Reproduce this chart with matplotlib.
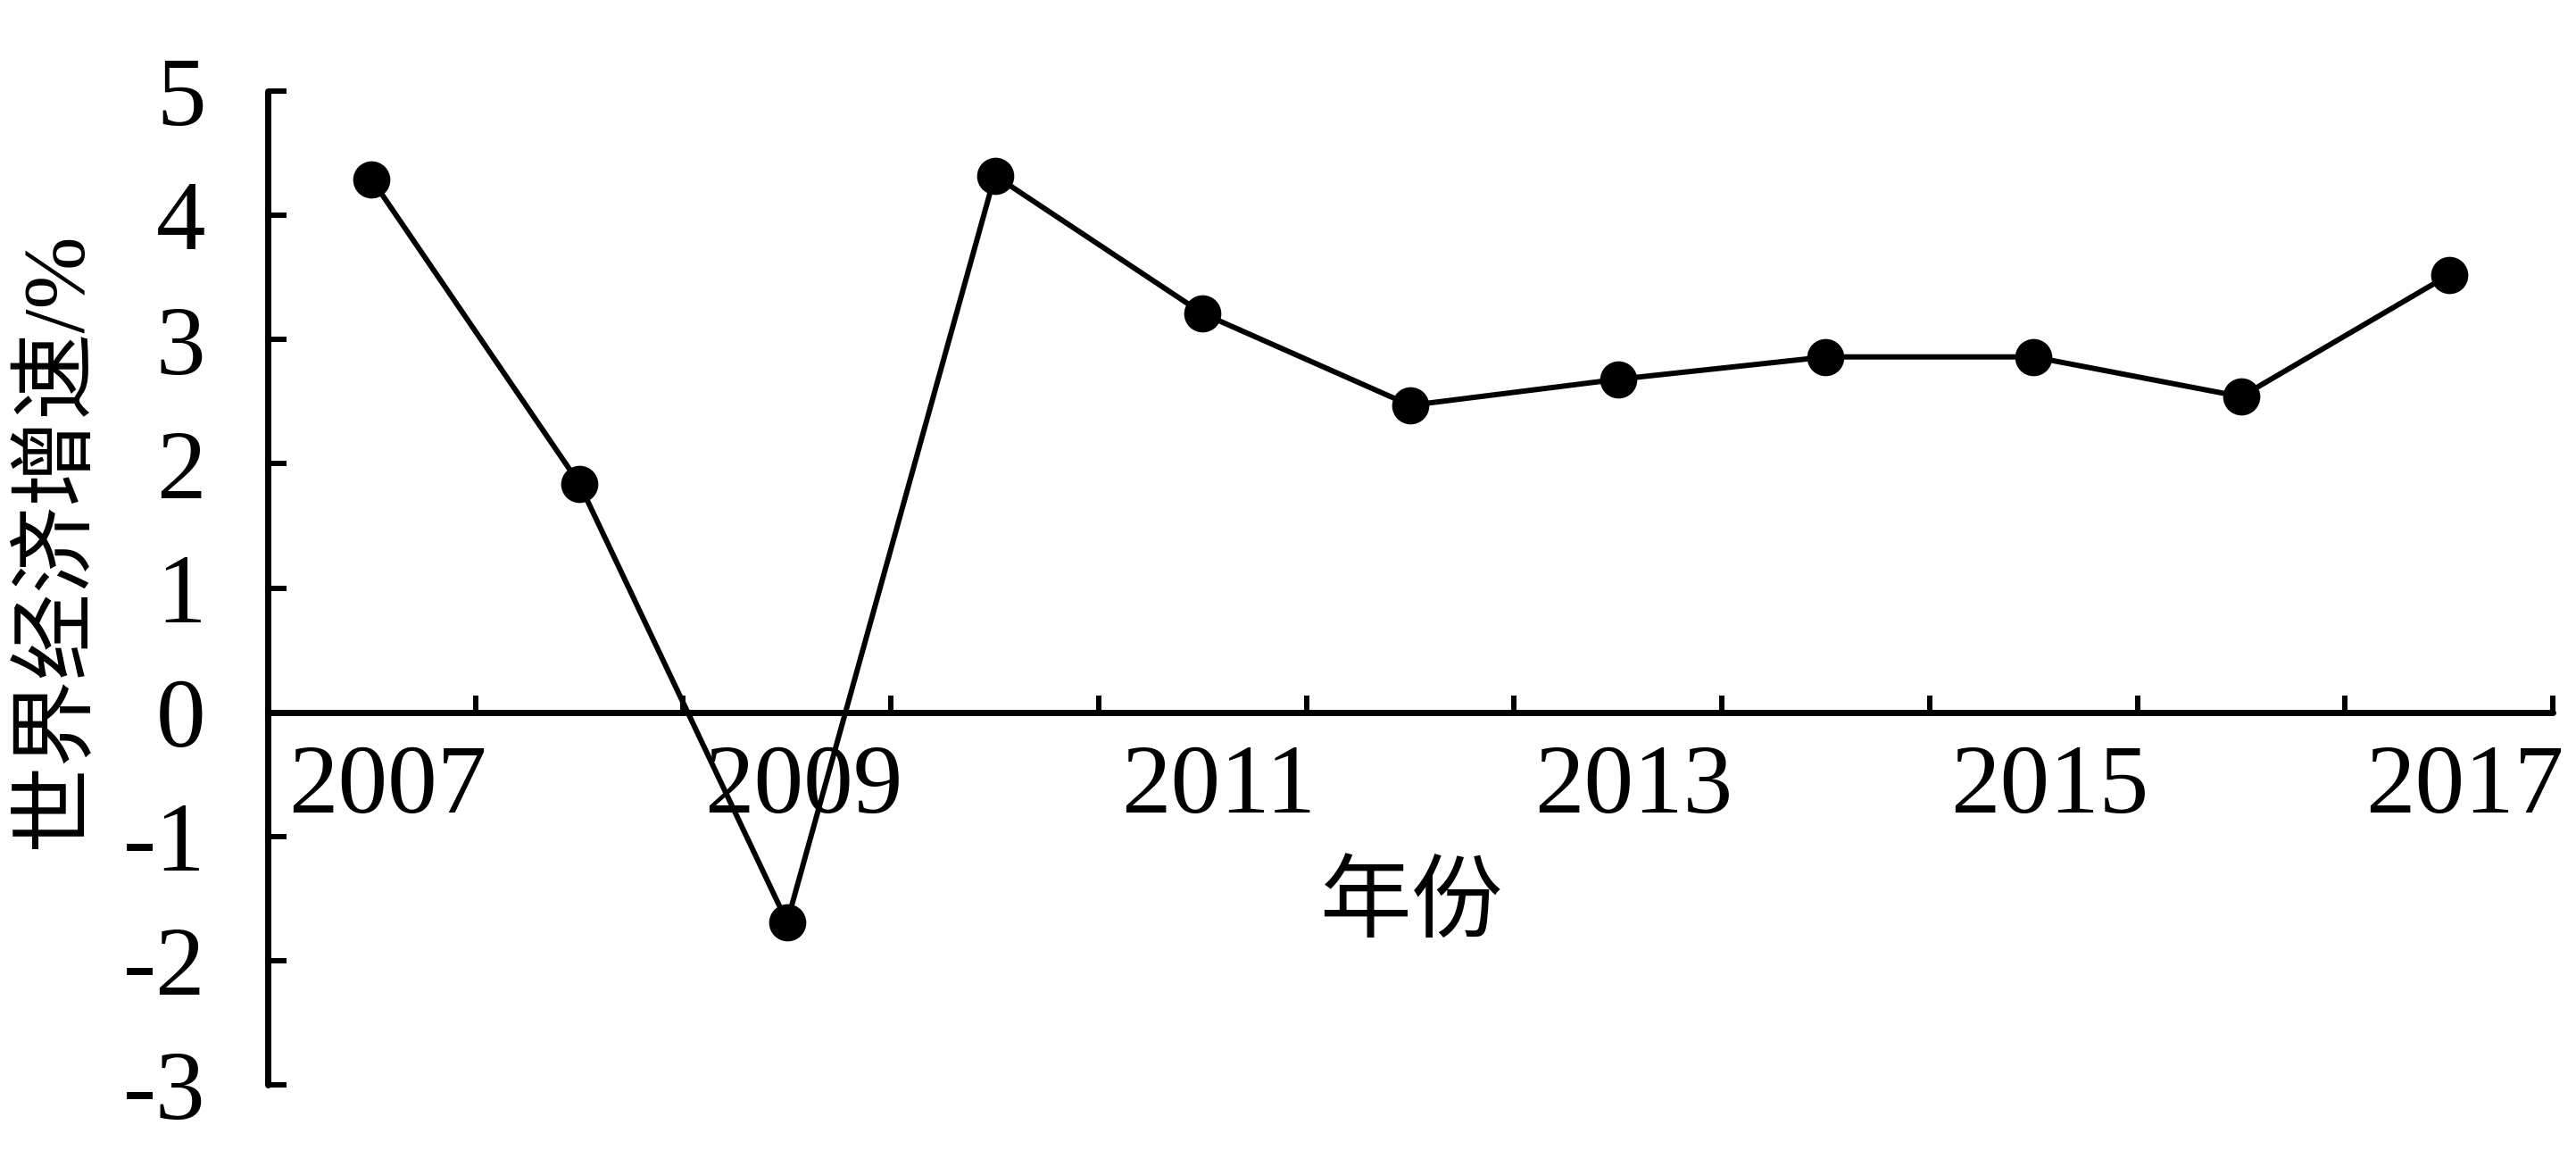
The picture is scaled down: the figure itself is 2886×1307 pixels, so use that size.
import numpy as np
import matplotlib
matplotlib.use("Agg")
import matplotlib.pyplot as plt
from matplotlib.transforms import ScaledTranslation

plt.rcParams['font.family'] = ['Liberation Serif', 'Noto Sans CJK SC', 'DejaVu Sans']

years = [2007, 2008, 2009, 2010, 2011, 2012, 2013, 2014, 2015, 2016, 2017]
growth = [4.29, 1.84, -1.69, 4.32, 3.21, 2.47, 2.68, 2.86, 2.86, 2.54, 3.52]
year_labels = ['2007', '', '2009', '', '2011', '', '2013', '', '2015', '', '2017']
y_ticks = [-3, -2, -1, 0, 1, 2, 3, 4, 5]
y_tick_labels = ['-3', '-2', '-1', '0', '1', '2', '3', '4', '5']
y_title = '世界经济增速/%'
x_title = '年份'

W, H = 2886, 1307
fig = plt.figure(figsize=(W / 100, H / 100), dpi=100)
ax = fig.add_axes([300 / W, 1 - 1215 / H, 2560 / W, (1215 - 102) / H])

x = np.arange(len(years))
ax.plot(x, growth, color='black', lw=4.3, marker='o', markersize=30,
        markerfacecolor='black', markeredgecolor='black', markeredgewidth=0,
        clip_on=False, zorder=3)

ax.set_xlim(-0.5, len(years) - 0.5)
ax.set_ylim(-3, 5)

for s in ['top', 'right']:
    ax.spines[s].set_visible(False)
ax.spines['bottom'].set_position(('data', 0))
for s in ['left', 'bottom']:
    ax.spines[s].set_linewidth(5)
    ax.spines[s].set_capstyle('round')

# y axis
ax.set_yticks(y_ticks)
ax.set_yticklabels(y_tick_labels)
ax.tick_params(axis='y', direction='in', length=15, width=4.3, pad=50,
               labelsize=80)

# x axis: boundary ticks (major), labels at category centres (minor)
ax.set_xticks(np.arange(0.5, len(years), 1.0))
ax.set_xticklabels([])
ax.tick_params(axis='x', which='major', direction='in', length=14, width=4.3)
ax.set_xticks(x, minor=True)
ax.set_xticklabels(year_labels, minor=True)
ax.tick_params(axis='x', which='minor', length=0, pad=26, labelsize=80)
off = ScaledTranslation(0.18, 0, fig.dpi_scale_trans)
for lab in ax.get_xticklabels(minor=True):
    lab.set_transform(lab.get_transform() + off)

fig.text(64 / W, 1 - 605 / H, y_title, rotation=90, ha='center', va='center',
         fontsize=70)
fig.text(1581 / W, 1 - 1016 / H, x_title, ha='center', va='center',
         fontsize=74)

fig.savefig('out.png', dpi=100, facecolor='white')
